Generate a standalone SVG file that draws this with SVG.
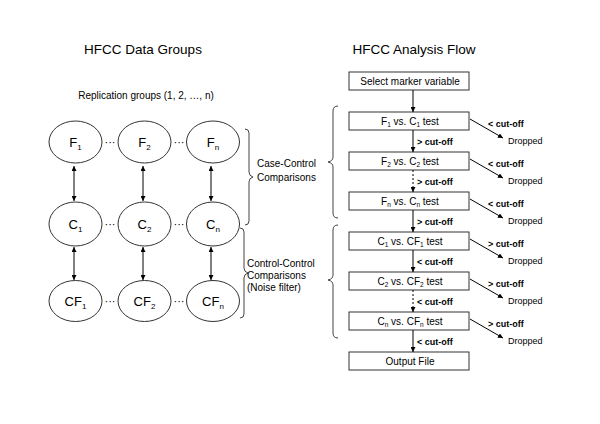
<svg xmlns="http://www.w3.org/2000/svg" width="600" height="424" viewBox="0 0 600 424">
<defs>
<marker id="ah" viewBox="0 0 10 10" refX="10" refY="5" markerWidth="5" markerHeight="5" markerUnits="userSpaceOnUse" orient="auto-start-reverse">
<path d="M0,0 L10,5 L0,10 z" fill="#000"/>
</marker>
<style>
text{font-family:"Liberation Sans",Arial,sans-serif;fill:#000}
.title{font-size:13.5px;text-anchor:middle}
.lbl{font-size:10px}
.node ellipse{fill:#fff;stroke:#333;stroke-width:1}
.node text{font-size:13px;text-anchor:middle}
.sub{font-size:8px}
.box rect{fill:#fff;stroke:#333;stroke-width:1}
.box text{font-size:10px;text-anchor:middle}
.bsub{font-size:6.5px}
.cut{font-size:9px;font-weight:bold}
.drop{font-size:9px}
.ln{stroke:#000;stroke-width:1;fill:none}
.dash{stroke-dasharray:2,2}
.brace{stroke:#444;stroke-width:1;fill:none}
.dots{font-size:11px;text-anchor:middle}
</style>
</defs>
<rect width="600" height="424" fill="#fff"/>

<text class="title" x="143" y="54">HFCC Data Groups</text>
<text class="title" x="414" y="54">HFCC Analysis Flow</text>
<text class="lbl" x="146" y="99" text-anchor="middle">Replication groups (1, 2, …, n)</text>

<g id="F1" class="node"><ellipse cx="75.5" cy="142" rx="26.5" ry="21"/><text x="75.5" y="147">F<tspan class="sub" dy="3">1</tspan></text></g>
<g id="F2" class="node"><ellipse cx="144.5" cy="142" rx="26.5" ry="21"/><text x="144.5" y="147">F<tspan class="sub" dy="3">2</tspan></text></g>
<g id="Fn" class="node"><ellipse cx="213" cy="142" rx="26.5" ry="21"/><text x="213" y="147">F<tspan class="sub" dy="3">n</tspan></text></g>
<g id="C1" class="node"><ellipse cx="75.5" cy="224" rx="26.5" ry="22"/><text x="75.5" y="229">C<tspan class="sub" dy="3">1</tspan></text></g>
<g id="C2" class="node"><ellipse cx="144.5" cy="224" rx="26.5" ry="22"/><text x="144.5" y="229">C<tspan class="sub" dy="3">2</tspan></text></g>
<g id="Cn" class="node"><ellipse cx="213" cy="224" rx="26.5" ry="22"/><text x="213" y="229">C<tspan class="sub" dy="3">n</tspan></text></g>
<g id="CF1" class="node"><ellipse cx="75.5" cy="301" rx="26.5" ry="20.5"/><text x="75.5" y="306">CF<tspan class="sub" dy="3">1</tspan></text></g>
<g id="CF2" class="node"><ellipse cx="144.5" cy="301" rx="26.5" ry="20.5"/><text x="144.5" y="306">CF<tspan class="sub" dy="3">2</tspan></text></g>
<g id="CFn" class="node"><ellipse cx="213" cy="301" rx="26.5" ry="20.5"/><text x="213" y="306">CF<tspan class="sub" dy="3">n</tspan></text></g>

<g id="dots">
<text class="dots" x="110" y="146">···</text>
<text class="dots" x="179" y="146">···</text>
<text class="dots" x="110" y="228">···</text>
<text class="dots" x="179" y="228">···</text>
<text class="dots" x="110" y="305">···</text>
<text class="dots" x="179" y="305">···</text>
</g>

<g id="braces">
<path class="brace" d="M245,129 Q249,129 249,133 L249,172 Q249,176 253,177 Q249,178 249,182 L249,221 Q249,225 245,225"/>
<path class="brace" d="M240,228 Q244,228 244,232 L244,268 Q244,272 248,273 Q244,274 244,278 L244,314 Q244,318 240,318"/>
<path class="brace" d="M338,106 Q333,106 333,111 L333,157 Q333,161 328,162 Q333,163 333,167 L333,213 Q333,218 338,218"/>
<path class="brace" d="M338,225 Q333,225 333,230 L333,275 Q333,279 328,280 Q333,281 333,285 L333,333 Q333,338 338,338"/>
</g>
<text class="lbl" x="257" y="167">Case-Control</text>
<text class="lbl" x="257" y="181">Comparisons</text>
<text class="lbl" x="247" y="267">Control-Control</text>
<text class="lbl" x="247" y="279">Comparisons</text>
<text class="lbl" x="247" y="291">(Noise filter)</text>

<g id="b0" class="box"><rect x="349" y="72" width="120" height="18"/><text x="410" y="84.5">Select marker variable</text></g>
<g id="b1" class="box"><rect x="349" y="112" width="120" height="18"/><text x="410" y="124.5">F<tspan class="bsub" dy="2">1</tspan><tspan dy="-2"> vs. C</tspan><tspan class="bsub" dy="2">1</tspan><tspan dy="-2"> test</tspan></text></g>
<g id="b2" class="box"><rect x="349" y="152" width="120" height="18"/><text x="410" y="164.5">F<tspan class="bsub" dy="2">2</tspan><tspan dy="-2"> vs. C</tspan><tspan class="bsub" dy="2">2</tspan><tspan dy="-2"> test</tspan></text></g>
<g id="b3" class="box"><rect x="349" y="192" width="120" height="18"/><text x="410" y="204.5">F<tspan class="bsub" dy="2">n</tspan><tspan dy="-2"> vs. C</tspan><tspan class="bsub" dy="2">n</tspan><tspan dy="-2"> test</tspan></text></g>
<g id="b4" class="box"><rect x="349" y="232" width="120" height="18"/><text x="410" y="244.5">C<tspan class="bsub" dy="2">1</tspan><tspan dy="-2"> vs. CF</tspan><tspan class="bsub" dy="2">1</tspan><tspan dy="-2"> test</tspan></text></g>
<g id="b5" class="box"><rect x="349" y="272" width="120" height="18"/><text x="410" y="284.5">C<tspan class="bsub" dy="2">2</tspan><tspan dy="-2"> vs. CF</tspan><tspan class="bsub" dy="2">2</tspan><tspan dy="-2"> test</tspan></text></g>
<g id="b6" class="box"><rect x="349" y="312" width="120" height="18"/><text x="410" y="324.5">C<tspan class="bsub" dy="2">n</tspan><tspan dy="-2"> vs. CF</tspan><tspan class="bsub" dy="2">n</tspan><tspan dy="-2"> test</tspan></text></g>
<g id="b7" class="box"><rect x="349" y="352" width="120" height="18"/><text x="410" y="364.5">Output File</text></g>

<g id="connectors">
<line class="ln" x1="74" y1="166" x2="74" y2="201" marker-start="url(#ah)" marker-end="url(#ah)"/>
<line class="ln" x1="143" y1="166" x2="143" y2="201" marker-start="url(#ah)" marker-end="url(#ah)"/>
<line class="ln" x1="211" y1="166" x2="211" y2="201" marker-start="url(#ah)" marker-end="url(#ah)"/>
<line class="ln" x1="74" y1="247" x2="74" y2="280" marker-start="url(#ah)" marker-end="url(#ah)"/>
<line class="ln" x1="143" y1="247" x2="143" y2="280" marker-start="url(#ah)" marker-end="url(#ah)"/>
<line class="ln" x1="211" y1="247" x2="211" y2="280" marker-start="url(#ah)" marker-end="url(#ah)"/>

<line class="ln" x1="413" y1="90" x2="413" y2="112" marker-end="url(#ah)"/>
<line class="ln" x1="413" y1="130" x2="413" y2="152" marker-end="url(#ah)"/>
<line class="ln dash" x1="413" y1="170" x2="413" y2="192" marker-end="url(#ah)"/>
<line class="ln" x1="413" y1="210" x2="413" y2="232" marker-end="url(#ah)"/>
<line class="ln" x1="413" y1="250" x2="413" y2="272" marker-end="url(#ah)"/>
<line class="ln dash" x1="413" y1="290" x2="413" y2="312" marker-end="url(#ah)"/>
<line class="ln" x1="413" y1="330" x2="413" y2="352" marker-end="url(#ah)"/>

<line class="ln" x1="470" y1="119" x2="503" y2="138" marker-end="url(#ah)"/>
<line class="ln" x1="470" y1="159" x2="503" y2="178" marker-end="url(#ah)"/>
<line class="ln" x1="470" y1="199" x2="503" y2="218" marker-end="url(#ah)"/>
<line class="ln" x1="470" y1="239" x2="503" y2="258" marker-end="url(#ah)"/>
<line class="ln" x1="470" y1="279" x2="503" y2="298" marker-end="url(#ah)"/>
<line class="ln" x1="470" y1="319" x2="503" y2="338" marker-end="url(#ah)"/>
</g>

<g id="labels">
<text class="cut" x="417" y="145">&gt; cut-off</text>
<text class="cut" x="417" y="185">&gt; cut-off</text>
<text class="cut" x="417" y="225">&gt; cut-off</text>
<text class="cut" x="417" y="265">&lt; cut-off</text>
<text class="cut" x="417" y="305">&lt; cut-off</text>
<text class="cut" x="417" y="345">&lt; cut-off</text>

<text class="cut" x="488" y="127">&lt; cut-off</text>
<text class="cut" x="488" y="167">&lt; cut-off</text>
<text class="cut" x="488" y="207">&lt; cut-off</text>
<text class="cut" x="488" y="247">&gt; cut-off</text>
<text class="cut" x="488" y="287">&gt; cut-off</text>
<text class="cut" x="488" y="327">&gt; cut-off</text>

<text class="drop" x="508" y="144">Dropped</text>
<text class="drop" x="508" y="184">Dropped</text>
<text class="drop" x="508" y="224">Dropped</text>
<text class="drop" x="508" y="264">Dropped</text>
<text class="drop" x="508" y="304">Dropped</text>
<text class="drop" x="508" y="344">Dropped</text>
</g>
</svg>
